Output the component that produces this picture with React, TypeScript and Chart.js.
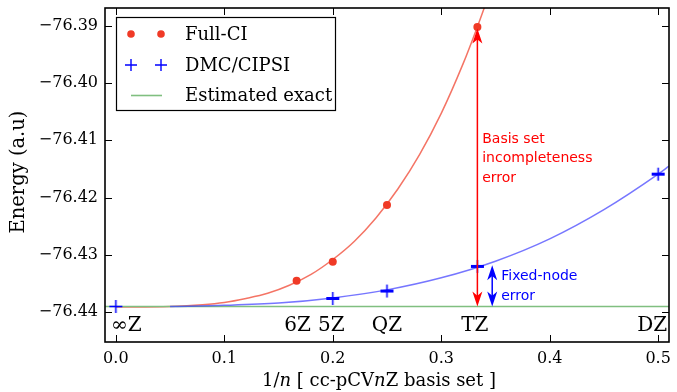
import React, { useEffect, useRef } from "react";
import { Chart, registerables } from "chart.js";

Chart.register(...registerables);

// ---------- data ----------
const fciX = [1 / 6, 0.2, 0.25, 1 / 3];
const fciY = [-76.4345, -76.4312, -76.4213, -76.3902];

const dmcX = [0, 0.2, 0.25, 1 / 3, 0.5];
const dmcY = [-76.439, -76.4376, -76.4363, -76.432, -76.4159];

const fciFitX = [0, 0.05, 0.08, 0.1, 0.12, 0.14, 0.16, 0.18, 0.2, 0.22, 0.24, 0.26, 0.28, 0.3, 0.32, 0.3333, 0.34, 0.345];
const fciFitY = [-76.4391, -76.4390, -76.4387, -76.4383, -76.4376, -76.4367, -76.4353, -76.4334, -76.4308, -76.4276, -76.4235, -76.4185, -76.4125, -76.4053, -76.3967, -76.3902, -76.3867, -76.384];

const dmcFitX = [0.05, 0.1, 0.15, 0.2, 0.25, 0.3, 0.35, 0.4, 0.45, 0.5, 0.51];
const dmcFitY = [-76.439, -76.4388, -76.4384, -76.4375, -76.4361, -76.434, -76.4311, -76.4272, -76.4221, -76.4159, -76.4145];

const exactX = [-0.01, 0.51];
const exactY = [-76.439, -76.439];

const xTickVals = [0, 0.1, 0.2, 0.3, 0.4, 0.5];
const yTickVals = [-76.44, -76.43, -76.42, -76.41, -76.4, -76.39];

const basisLabels = ["\u221EZ", "6Z", "5Z", "QZ", "TZ", "DZ"];
const basisLabelX = [0.0097, 0.1676, 0.1987, 0.25, 0.331, 0.4946];
const basisLabelY = -76.4423;

const legendLabels = ["Full-CI", "DMC/CIPSI", "Estimated exact"];

// annotations (data units)
const basisArrowX = 1 / 3;
const basisArrowY = [-76.439, -76.3905];
const nodeArrowX = 0.347;
const nodeArrowY = [-76.439, -76.4318];
const basisText = ["Basis set", "incompleteness", "error"];
const basisTextPos = [0.3378, -76.4098];
const nodeText = ["Fixed-node", "error"];
const nodeTextPos = [0.3553, -76.4338];

const X_MIN = -0.01, X_MAX = 0.51, Y_MIN = -76.4452, Y_MAX = -76.3869;

const SERIF = '"DejaVu Serif"';
const SANS = '"DejaVu Sans"';

const toXY = (xs: number[], ys: number[]) => xs.map((x, i) => ({ x, y: ys[i] }));

function makePlus(hThick: number): HTMLCanvasElement {
  const c = document.createElement("canvas");
  c.width = 15; c.height = 15;
  const g = c.getContext("2d")!;
  g.fillStyle = "#0000ff";
  g.fillRect(1, 7.5 - hThick / 2, 13, hThick);
  g.fillRect(6.75, 1, 1.5, 13);
  return c;
}

function arrowHead(ctx: CanvasRenderingContext2D, x: number, tipY: number, dir: number, color: string) {
  const L = 15, W = 5;
  ctx.fillStyle = color;
  ctx.beginPath();
  ctx.moveTo(x, tipY);
  ctx.lineTo(x + W, tipY + dir * L);
  ctx.lineTo(x, tipY + dir * L * 0.72);
  ctx.lineTo(x - W, tipY + dir * L);
  ctx.closePath();
  ctx.fill();
}

function doubleArrow(ctx: CanvasRenderingContext2D, x: number, yBottom: number, yTop: number, color: string) {
  ctx.strokeStyle = color;
  ctx.lineWidth = 1.5;
  ctx.beginPath();
  ctx.moveTo(x, yBottom - 8);
  ctx.lineTo(x, yTop + 8);
  ctx.stroke();
  arrowHead(ctx, x, yTop, 1, color);
  arrowHead(ctx, x, yBottom, -1, color);
}

const decoPlugin = {
  id: "deco",
  afterDraw(chart: any) {
    const { ctx, chartArea: a, scales } = chart;
    const xs = scales.x, ys = scales.y;
    ctx.save();

    // inward ticks on all four sides
    ctx.strokeStyle = "#000";
    ctx.lineWidth = 1;
    ctx.beginPath();
    for (const v of xTickVals) {
      const px = Math.round(xs.getPixelForValue(v)) + 0.5;
      ctx.moveTo(px, a.bottom); ctx.lineTo(px, a.bottom - 7);
      ctx.moveTo(px, a.top); ctx.lineTo(px, a.top + 7);
    }
    for (const v of yTickVals) {
      const py = Math.round(ys.getPixelForValue(v)) + 0.5;
      ctx.moveTo(a.left, py); ctx.lineTo(a.left + 7, py);
      ctx.moveTo(a.right, py); ctx.lineTo(a.right - 7, py);
    }
    ctx.stroke();

    // basis set labels
    ctx.fillStyle = "#000";
    ctx.font = `20px ${SERIF}`;
    ctx.textAlign = "center";
    ctx.textBaseline = "middle";
    basisLabels.forEach((t, i) => {
      ctx.fillText(t, xs.getPixelForValue(basisLabelX[i]), ys.getPixelForValue(basisLabelY));
    });

    // arrows
    doubleArrow(ctx, xs.getPixelForValue(basisArrowX), ys.getPixelForValue(basisArrowY[0]), ys.getPixelForValue(basisArrowY[1]), "#ff0000");
    doubleArrow(ctx, xs.getPixelForValue(nodeArrowX), ys.getPixelForValue(nodeArrowY[0]), ys.getPixelForValue(nodeArrowY[1]), "#0000ff");

    // annotation texts
    ctx.font = `14px ${SANS}`;
    ctx.textAlign = "left";
    ctx.fillStyle = "#ff0000";
    basisText.forEach((t, i) => {
      ctx.fillText(t, xs.getPixelForValue(basisTextPos[0]), ys.getPixelForValue(basisTextPos[1]) + i * 19.5);
    });
    ctx.fillStyle = "#0000ff";
    nodeText.forEach((t, i) => {
      ctx.fillText(t, xs.getPixelForValue(nodeTextPos[0]), ys.getPixelForValue(nodeTextPos[1]) + i * 19.5);
    });

    // frame
    ctx.strokeStyle = "#000";
    ctx.lineWidth = 1.6;
    ctx.strokeRect(a.left, a.top, a.right - a.left, a.bottom - a.top);

    // legend
    const lx = 116.5, ly = 17.5, lw = 219, lh = 93;
    ctx.fillStyle = "#fff";
    ctx.fillRect(lx, ly, lw, lh);
    ctx.lineWidth = 1.2;
    ctx.strokeRect(lx, ly, lw, lh);
    const rows = [34, 65, 95.5];
    ctx.fillStyle = "#f03a26";
    for (const mx of [131, 161]) {
      ctx.beginPath(); ctx.arc(mx, rows[0], 3.8, 0, Math.PI * 2); ctx.fill();
    }
    ctx.strokeStyle = "#0000ff";
    ctx.lineWidth = 1.4;
    ctx.beginPath();
    for (const mx of [131, 161]) {
      ctx.moveTo(mx - 6, rows[1]); ctx.lineTo(mx + 6, rows[1]);
      ctx.moveTo(mx, rows[1] - 6); ctx.lineTo(mx, rows[1] + 6);
    }
    ctx.stroke();
    ctx.strokeStyle = "#80bf80";
    ctx.lineWidth = 1.6;
    ctx.beginPath(); ctx.moveTo(131, rows[2]); ctx.lineTo(162, rows[2]); ctx.stroke();
    ctx.fillStyle = "#000";
    ctx.font = `18px ${SERIF}`;
    ctx.textAlign = "left";
    ctx.textBaseline = "middle";
    legendLabels.forEach((t, i) => ctx.fillText(t, 185, rows[i] + 1));

    // x axis title with italic n
    const segs: [string, boolean][] = [["1/", false], ["n", true], [" [ cc-pCV", false], ["n", true], ["Z basis set ]", false]];
    const fontN = `18px ${SERIF}`, fontI = `italic 18px ${SERIF}`;
    let total = 0;
    for (const [s, it] of segs) { ctx.font = it ? fontI : fontN; total += ctx.measureText(s).width; }
    let cx = (a.left + a.right) / 2 - total / 2 - 8;
    ctx.textBaseline = "middle";
    for (const [s, it] of segs) {
      ctx.font = it ? fontI : fontN;
      ctx.fillText(s, cx, 381);
      cx += ctx.measureText(s).width;
    }

    // y axis title
    ctx.save();
    ctx.translate(19, 172);
    ctx.rotate(-Math.PI / 2);
    ctx.font = `19.5px ${SERIF}`;
    ctx.textAlign = "center";
    ctx.textBaseline = "middle";
    ctx.fillText("Energy (a.u)", 0, 0);
    ctx.restore();

    ctx.restore();
  },
};

export default function App() {
  const ref = useRef<HTMLCanvasElement>(null);
  useEffect(() => {
    const thinPlus = makePlus(1.5);
    const barPlus = makePlus(3);
    const chart = new Chart(ref.current!, {
      type: "scatter",
      data: {
        datasets: [
          {
            label: "Full-CI",
            data: toXY(fciX, fciY),
            pointStyle: "circle",
            pointRadius: 4,
            backgroundColor: "#f03a26",
            borderColor: "#f03a26",
            borderWidth: 0,
            showLine: false,
            order: 0,
          },
          {
            label: "DMC/CIPSI",
            data: toXY(dmcX, dmcY),
            pointStyle: dmcX.map((_, i) => (i === 0 ? thinPlus : barPlus)),
            pointRadius: 7,
            borderColor: "#0000ff",
            backgroundColor: "#0000ff",
            showLine: false,
            order: 1,
          },
          {
            label: "DMC fit",
            data: toXY(dmcFitX, dmcFitY),
            showLine: true,
            borderColor: "rgba(60,60,255,0.7)",
            borderWidth: 1.5,
            pointRadius: 0,
            cubicInterpolationMode: "monotone",
            order: 2,
          },
          {
            label: "Estimated exact",
            data: toXY(exactX, exactY),
            showLine: true,
            borderColor: "#80bf80",
            borderWidth: 1.5,
            pointRadius: 0,
            order: 3,
          },
          {
            label: "FCI fit",
            data: toXY(fciFitX, fciFitY),
            showLine: true,
            borderColor: "rgba(240,70,50,0.75)",
            borderWidth: 1.5,
            pointRadius: 0,
            cubicInterpolationMode: "monotone",
            order: 4,
          },
        ],
      } as any,
      options: {
        animation: false,
        responsive: false,
        maintainAspectRatio: false,
        layout: { padding: { top: 6, right: 3, left: 0, bottom: 0 } },
        plugins: { legend: { display: false }, tooltip: { enabled: false }, title: { display: false } },
        scales: {
          x: {
            type: "linear",
            min: X_MIN,
            max: X_MAX,
            grid: { display: false, drawTicks: false },
            border: { display: false },
            afterBuildTicks: (s: any) => { s.ticks = xTickVals.map((v) => ({ value: v })); },
            afterFit: (s: any) => { s.height = 50; s.paddingLeft = 0; s.paddingRight = 0; },
            ticks: {
              padding: 7,
              color: "#000",
              font: { family: "DejaVu Serif", size: 16 },
              maxRotation: 0,
              autoSkip: false,
              callback: (v: any) => Number(v).toFixed(1),
            },
          },
          y: {
            type: "linear",
            min: Y_MIN,
            max: Y_MAX,
            grid: { display: false, drawTicks: false },
            border: { display: false },
            afterBuildTicks: (s: any) => { s.ticks = yTickVals.map((v) => ({ value: v })); },
            afterFit: (s: any) => { s.width = 105; s.paddingTop = 0; s.paddingBottom = 0; },
            ticks: {
              padding: 7,
              color: "#000",
              font: { family: "DejaVu Serif", size: 16 },
              autoSkip: false,
              callback: (v: any) => "\u2212" + Math.abs(Number(v)).toFixed(2),
            },
          },
        },
      } as any,
      plugins: [decoPlugin],
    });
    return () => chart.destroy();
  }, []);
  return (
    <div style={{ position: "fixed", left: 0, top: 0, width: 677, height: 392, background: "#fff" }}>
      <canvas ref={ref} width={677} height={392} style={{ display: "block", width: 677, height: 392 }} />
    </div>
  );
}
